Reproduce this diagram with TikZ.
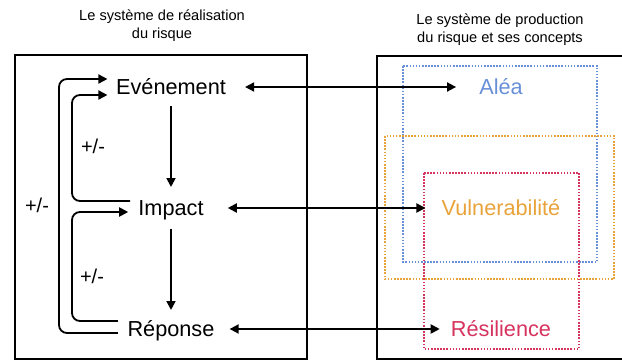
\documentclass[tikz,border=0pt]{standalone}
\usepackage{fontspec}
\setmainfont{Liberation Sans}
\usetikzlibrary{arrows.meta,positioning,calc}
\definecolor{aleablue}{RGB}{104,144,216}
\definecolor{vulnorange}{RGB}{232,163,58}
\definecolor{resilred}{RGB}{214,51,94}

\begin{document}
\begin{tikzpicture}[x=1pt, y=-1pt, node distance=105pt]
\tikzstyle{concept} = [inner sep=0pt, font=\fontsize{21.7}{26}\selectfont, text height=15.6pt, text depth=0pt]
\tikzstyle{title} = [inner sep=0pt, align=center, anchor=north, font=\fontsize{14.6}{17.6}\selectfont]
\tikzstyle{sign} = [inner sep=0pt, font=\fontsize{20}{22}\selectfont]
\tikzstyle{frame} = [line width=1.8pt]
\tikzstyle{zone} = [line width=1.5pt, dash pattern=on 1.6pt off 1.5pt]
\tikzstyle{arrow} = [line width=1.8pt, -{Triangle[length=9pt,width=9pt]}]
\tikzstyle{biarrow} = [line width=1.8pt, {Triangle[length=9pt,width=9pt]}-{Triangle[length=9pt,width=9pt]}]
\tikzstyle{feedback} = [arrow, rounded corners=8pt]

\useasboundingbox (0,0) rectangle (622,361);

% the two systems
\draw[frame] (15,55) rectangle (307,359);
\draw[frame] (377,56) rectangle (640,359);
\node (realtitle) [title] at (162,10) {Le système de réalisation\\du risque};
\node (prodtitle) [title] at (500,14) {Le système de production\\du risque et ses concepts};

% concepts zones
\draw[zone, aleablue] (403,66) rectangle (597,262);
\draw[zone, vulnorange] (385,136) rectangle (614,279);
\draw[zone, resilred] (424,173) rectangle (579,349);

\node (evenement) [concept] at (171,87) {Evénement};
\node (impact) [concept, below=of evenement] {Impact};
\node (reponse) [concept, below=of impact] {Réponse};

\node (alea) [concept, text=aleablue] at (501,87) {Aléa};
\node (vuln) [concept, text=vulnorange, below=of alea] {Vulnerabilité};
\node (resil) [concept, text=resilred, below=of vuln] {Résilience};

\draw[arrow, shorten <=11pt, shorten >=13pt] (evenement) -- (impact);
\draw[arrow, shorten <=13pt, shorten >=11pt] (impact) -- (reponse);

\draw[biarrow, shorten <=19pt, shorten >=23pt] (evenement) -- (alea);
\draw[biarrow, shorten <=24pt, shorten >=16pt] (impact) -- (vuln);
\draw[biarrow, shorten <=15pt, shorten >=11pt] (reponse) -- (resil);

% feedback loops
\coordinate (outerx) at (59,0);
\coordinate (innerx) at (72,0);
\coordinate (ev_hi) at ([shift={(-8.5,-8)}]evenement.west);
\coordinate (ev_lo) at ([shift={(-8.5,8)}]evenement.west);
\coordinate (im_out) at ([shift={(-8,-7)}]impact.west);
\coordinate (im_in) at ([shift={(-10,4)}]impact.west);
\coordinate (rep_hi) at ([shift={(-9.5,-8)}]reponse.west);
\coordinate (rep_lo) at ([shift={(-9.5,4)}]reponse.west);

\draw[feedback] (rep_lo) -- (rep_lo -| outerx) -- (outerx |- ev_hi) -- (ev_hi);
\draw[feedback] (im_out) -- (im_out -| innerx) -- (innerx |- ev_lo) -- (ev_lo);
\draw[feedback] (rep_hi) -- (rep_hi -| innerx) -- (innerx |- im_in) -- (im_in);

\node (sign1) [sign] at (93,146) {+/-};
\node (sign2) [sign] at (92,276) {+/-};
\node (sign3) [sign] at (37,205) {+/-};
\end{tikzpicture}
\end{document}
